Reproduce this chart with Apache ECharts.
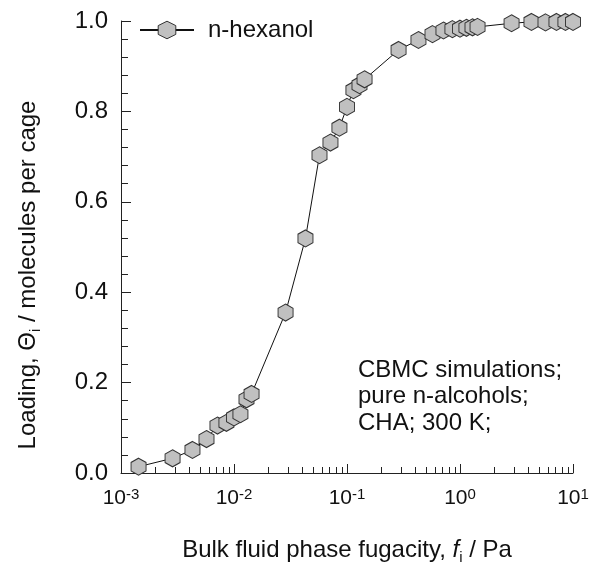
<!DOCTYPE html>
<html><head><meta charset="utf-8">
<script src="https://cdn.jsdelivr.net/npm/echarts@6/dist/echarts.min.js"></script>
<style>html,body{margin:0;padding:0;background:#fff}#c{width:606px;height:567px}</style>
</head><body><div id="c"></div>
<script>
const seriesName = 'n-hexanol';
const fugacity = [0.00143,0.00286,0.00429,0.00571,0.00714,0.00857,0.01,0.0114,0.0129,0.0143,
  0.0286,0.0429,0.0571,0.0714,0.0857,0.1,0.114,0.129,0.143,
  0.286,0.429,0.571,0.714,0.857,1.0,1.14,1.29,1.43,
  2.86,4.29,5.71,7.14,8.57,10];
const loading = [0.014,0.0325,0.051,0.075,0.105,0.111,0.123,0.130,0.163,0.175,
  0.355,0.519,0.703,0.731,0.764,0.810,0.847,0.858,0.871,
  0.936,0.958,0.971,0.979,0.982,0.983,0.985,0.986,0.987,
  0.995,0.998,0.997,0.998,0.998,0.998];
const xMajorTicks = [0.001,0.01,0.1,1,10];
const xMinorTicks = [0.002,0.003,0.004,0.005,0.006,0.007,0.008,0.009,
  0.02,0.03,0.04,0.05,0.06,0.07,0.08,0.09,
  0.2,0.3,0.4,0.5,0.6,0.7,0.8,0.9,
  2,3,4,5,6,7,8,9];
const yTickLabels = ['0.0','0.2','0.4','0.6','0.8','1.0'];
const noteLines = ['CBMC simulations;','pure n-alcohols;','CHA; 300 K;'];

const FONT = '"Liberation Sans", Arial, Helvetica, sans-serif';
const AX = '#222';
const hex = 'path://M0,-1 L0.866,-0.5 L0.866,0.5 L0,1 L-0.866,0.5 L-0.866,-0.5 Z';
const supMap = {};
xMajorTicks.forEach(v => { supMap[v] = String(Math.round(Math.log10(v))); });

const chart = echarts.init(document.getElementById('c'), null, {renderer: 'canvas'});
chart.setOption({
  animation: false,
  backgroundColor: '#fff',
  textStyle: {fontFamily: FONT},
  grid: {left: 121, top: 21, width: 452, height: 452},
  legend: {
    data: [seriesName], left: 139, top: 18, padding: 0,
    itemWidth: 54, itemHeight: 22,
    itemStyle: {borderWidth: 1, borderColor: '#333'},
    textStyle: {fontFamily: FONT, fontSize: 24, color: '#111', padding: [0,0,0,9]}
  },
  xAxis: [{
    type: 'log', logBase: 10, min: 0.001, max: 10,
    axisLine: {show: true, lineStyle: {color: AX, width: 1}},
    axisTick: {show: true, inside: true, length: 9, lineStyle: {color: AX}, customValues: xMajorTicks},
    minorTick: {show: false},
    splitLine: {show: false},
    axisLabel: {
      customValues: xMajorTicks, margin: 14, color: '#111', hideOverlap: false,
      showMinLabel: true, showMaxLabel: true,
      formatter: v => '{b|10}{s|' + (supMap[v] !== undefined ? supMap[v] : Math.round(Math.log10(v))) + '}',
      rich: {
        b: {fontFamily: FONT, fontSize: 21, lineHeight: 23, color: '#111'},
        s: {fontFamily: FONT, fontSize: 15, lineHeight: 15, verticalAlign: 'top', color: '#111'}
      }
    }
  }, {
    type: 'log', logBase: 10, min: 0.001, max: 10, position: 'bottom',
    axisLine: {show: false},
    axisTick: {show: true, inside: true, length: 6, lineStyle: {color: AX}, customValues: xMinorTicks},
    axisLabel: {show: false},
    splitLine: {show: false}
  }],
  yAxis: {
    type: 'value', min: 0, max: 1, interval: 0.2,
    axisLine: {show: true, lineStyle: {color: AX, width: 1}},
    axisTick: {show: true, inside: true, length: 10, lineStyle: {color: AX}},
    minorTick: {show: true, splitNumber: 5, length: 7, lineStyle: {color: AX}},
    splitLine: {show: false},
    axisLabel: {margin: 13, fontFamily: FONT, fontSize: 24, color: '#111',
      formatter: (v) => yTickLabels[Math.round(v / 0.2)]}
  },
  series: [{
    name: seriesName, type: 'line', xAxisIndex: 0,
    data: fugacity.map((f, i) => [f, loading[i]]),
    symbol: hex, symbolSize: [15, 17],
    itemStyle: {color: '#c0c0c0', borderColor: '#333', borderWidth: 1},
    lineStyle: {color: '#111', width: 1},
    emphasis: {disabled: true}
  }],
  graphic: [{
    type: 'text', x: 28, y: 275, rotation: Math.PI / 2,
    style: {
      text: '{n|Loading, Θ}{s|i}{n| / molecules per cage}',
      align: 'center', verticalAlign: 'middle',
      rich: {
        n: {fontFamily: FONT, fontSize: 24, lineHeight: 30, fill: '#111'},
        s: {fontFamily: FONT, fontSize: 15, lineHeight: 15, verticalAlign: 'bottom', fill: '#111'}
      }
    }
  }, {
    type: 'text', x: 347, y: 550,
    style: {
      text: '{n|Bulk fluid phase fugacity, }{f|f}{s|i}{n| / Pa}',
      align: 'center', verticalAlign: 'middle',
      rich: {
        n: {fontFamily: FONT, fontSize: 24, lineHeight: 30, fill: '#111'},
        f: {fontFamily: FONT, fontSize: 24, lineHeight: 30, fontStyle: 'italic', fill: '#111'},
        s: {fontFamily: FONT, fontSize: 15, lineHeight: 15, verticalAlign: 'bottom', fill: '#111'}
      }
    }
  }, {
    type: 'text', x: 358, y: 357,
    style: {
      text: noteLines.join('\n'),
      fontFamily: FONT, fontSize: 24, lineHeight: 26.5, fill: '#111',
      align: 'left', verticalAlign: 'top'
    }
  }]
});
</script></body></html>
